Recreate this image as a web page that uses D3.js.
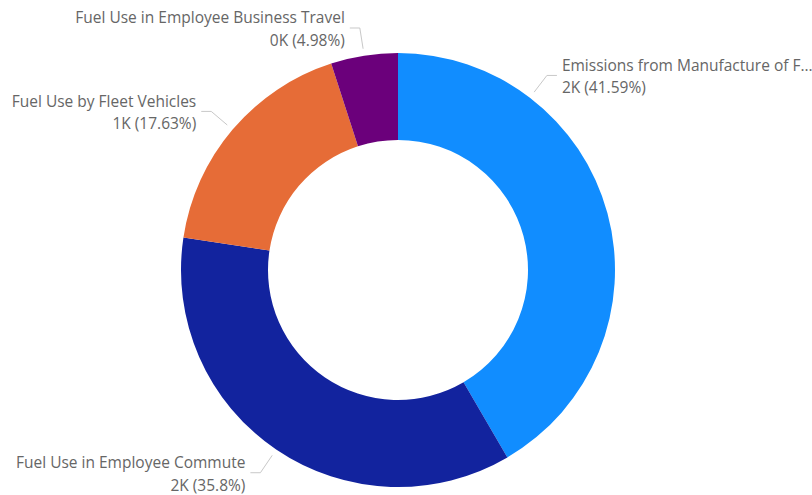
<!DOCTYPE html>
<html>
<head>
<meta charset="utf-8">
<script src="https://cdn.jsdelivr.net/npm/d3@7"></script>
<style>
    body { margin: 0; background: #fff; }
    .label { font-family: "Segoe UI", "Open Sans", sans-serif; font-size: 15.5px; fill: #666; }
</style>
</head>
<body>
<svg id="viewBox" width="812" height="495"></svg>
<script>
'use strict'

const categories = [
    "Emissions from Manufacture of Fuels",
    "Fuel Use in Employee Commute",
    "Fuel Use by Fleet Vehicles",
    "Fuel Use in Employee Business Travel"
]
const values = [2079.5, 1790, 881.5, 249]
const colors = ["#118DFF", "#12239E", "#E66C37", "#6B007B"]

const w = 812
const h = 495
const cx = 398
const cy = 270
const outer = 217
const inner = 130

// the first label sits higher up its slice, like the report puts it
const labelAngle = (d) => {
    if (d.index == 0) {
        return d.startAngle + (d.endAngle - d.startAngle) * 0.25
    }
    return (d.startAngle + d.endAngle) / 2
}

const polar = (a, r) => [cx + r * Math.sin(a), cy - r * Math.cos(a)]

const draw_chart = () => {
    const data = categories.map((c, i) => ({ name: c, value: values[i] }))
    const total = d3.sum(values)
    const fmtK = (v) => d3.format(".0f")(v / 1000) + "K"
    const fmtPct = d3.format(".2~%")

    const color = d3.scaleOrdinal()
        .domain(categories)
        .range(colors)

    const pie = d3.pie()
        .sort(null)
        .value(d => d.value)
    const arcs = pie(data)

    const arc = d3.arc()
        .innerRadius(inner)
        .outerRadius(outer)

    const svg = d3.select("#viewBox")

    svg.append("g")
        .attr("transform", `translate(${cx},${cy})`)
        .selectAll("path")
        .data(arcs)
        .join("path")
        .attr("d", arc)
        .attr("fill", d => color(d.data.name))

    // leader lines
    svg.append("g")
        .selectAll("polyline")
        .data(arcs)
        .join("polyline")
        .attr("fill", "none")
        .attr("stroke", "#c8c8c8")
        .attr("stroke-width", 1)
        .attr("points", (d) => {
            const a = labelAngle(d)
            const p0 = polar(a, outer + 7)
            const p1 = polar(a, outer + 28)
            const side = Math.sin(a) >= 0 ? 1 : -1
            const p2 = [p1[0] + side * 10, p1[1]]
            return [p0, p1, p2].map(p => p.join(",")).join(" ")
        })

    const labels = svg.append("g")
        .selectAll("text")
        .data(arcs)
        .join("text")
        .attr("class", "label")
        .attr("text-anchor", d => Math.sin(labelAngle(d)) >= 0 ? "start" : "end")
        .attr("transform", (d) => {
            const a = labelAngle(d)
            const p1 = polar(a, outer + 28)
            const side = Math.sin(a) >= 0 ? 1 : -1
            return `translate(${p1[0] + side * 15},${p1[1]})`
        })

    labels.append("tspan")
        .attr("class", "name")
        .attr("x", 0)
        .attr("y", -10.5)
        .attr("dominant-baseline", "central")
        .text(d => d.data.name)

    labels.append("tspan")
        .attr("x", 0)
        .attr("y", 12)
        .attr("dominant-baseline", "central")
        .text(d => `${fmtK(d.value)} (${fmtPct(d.value / total)})`)

    // cut names that run past the right edge
    labels.selectAll("tspan.name").each(function (d) {
        const a = labelAngle(d)
        if (Math.sin(a) < 0) {
            return
        }
        const x0 = polar(a, outer + 28)[0] + 15
        const room = w - x0 + 3
        const el = d3.select(this)
        let s = d.data.name
        while (this.getComputedTextLength() > room && s.length > 1) {
            s = s.slice(0, -1)
            el.text(s.trimEnd() + "...")
        }
    })
}

draw_chart()
</script>
</body>
</html>
